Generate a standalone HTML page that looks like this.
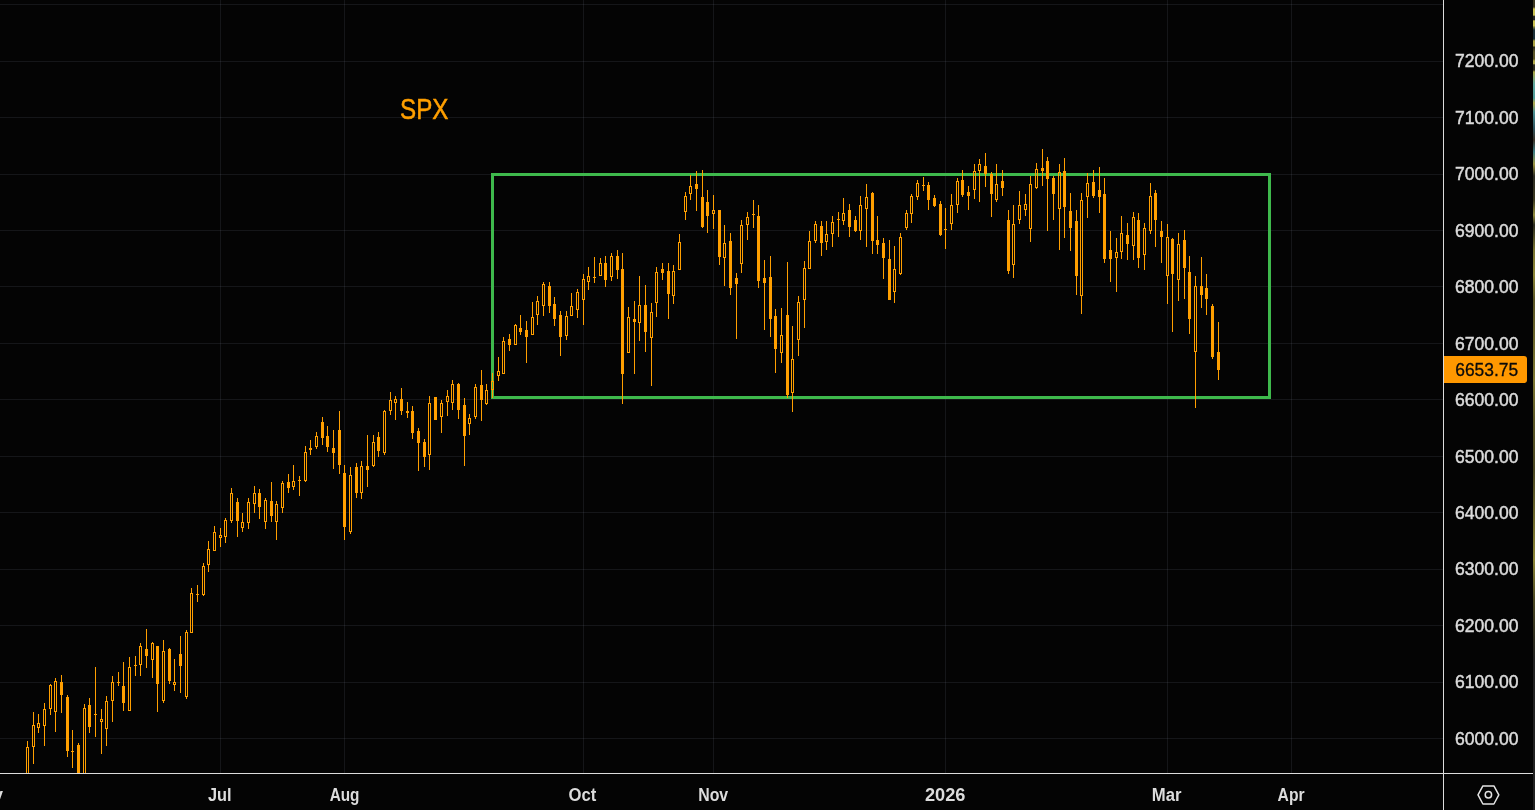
<!DOCTYPE html>
<html><head><meta charset="utf-8"><title>SPX</title>
<style>html,body{margin:0;padding:0;background:#040404;overflow:hidden;font-size:0;line-height:0;color:#040404}svg{display:block;position:fixed;left:0;top:0;z-index:9;will-change:transform}text{font-family:"Liberation Sans",sans-serif}</style>
</head><body>
<svg width="1535" height="810" viewBox="0 0 1535 810">
<rect width="1535" height="810" fill="#040404"/>
<g fill="#8a93a8" fill-opacity="0.13" shape-rendering="crispEdges">
<rect x="0" y="4" width="1443" height="1"/>
<rect x="0" y="61" width="1443" height="1"/>
<rect x="0" y="117" width="1443" height="1"/>
<rect x="0" y="174" width="1443" height="1"/>
<rect x="0" y="230" width="1443" height="1"/>
<rect x="0" y="286" width="1443" height="1"/>
<rect x="0" y="343" width="1443" height="1"/>
<rect x="0" y="399" width="1443" height="1"/>
<rect x="0" y="456" width="1443" height="1"/>
<rect x="0" y="512" width="1443" height="1"/>
<rect x="0" y="569" width="1443" height="1"/>
<rect x="0" y="625" width="1443" height="1"/>
<rect x="0" y="682" width="1443" height="1"/>
<rect x="0" y="738" width="1443" height="1"/>
<rect x="220" y="0" width="1" height="773"/>
<rect x="344" y="0" width="1" height="773"/>
<rect x="583" y="0" width="1" height="773"/>
<rect x="713" y="0" width="1" height="773"/>
<rect x="945" y="0" width="1" height="773"/>
<rect x="1167" y="0" width="1" height="773"/>
<rect x="1291" y="0" width="1" height="773"/>
</g>
<rect x="492.5" y="174.5" width="777" height="223" fill="none" stroke="#3eb94c" stroke-width="3" shape-rendering="crispEdges"/>
<g fill="#ff9f00" shape-rendering="crispEdges">
<rect x="27" y="741" width="1" height="7"/>
<rect x="26" y="747" width="1" height="26"/>
<rect x="28" y="747" width="1" height="26"/>
<rect x="33" y="712" width="1" height="14"/>
<rect x="33" y="746" width="1" height="18"/>
<rect x="32" y="725" width="1" height="22"/>
<rect x="34" y="725" width="1" height="22"/>
<rect x="38" y="714" width="1" height="10"/>
<rect x="38" y="727" width="1" height="6"/>
<rect x="37" y="723" width="1" height="5"/>
<rect x="39" y="723" width="1" height="5"/>
<rect x="44" y="703" width="1" height="7"/>
<rect x="44" y="725" width="1" height="21"/>
<rect x="43" y="709" width="1" height="17"/>
<rect x="45" y="709" width="1" height="17"/>
<rect x="50" y="684" width="1" height="2"/>
<rect x="50" y="708" width="1" height="7"/>
<rect x="49" y="685" width="1" height="24"/>
<rect x="51" y="685" width="1" height="24"/>
<rect x="55" y="678" width="1" height="4"/>
<rect x="55" y="711" width="1" height="21"/>
<rect x="54" y="681" width="1" height="31"/>
<rect x="56" y="681" width="1" height="31"/>
<rect x="61" y="675" width="1" height="38"/>
<rect x="60" y="682" width="3" height="13"/>
<rect x="67" y="695" width="1" height="62"/>
<rect x="66" y="697" width="3" height="54"/>
<rect x="72" y="730" width="1" height="38"/>
<rect x="71" y="751" width="3" height="1"/>
<rect x="78" y="743" width="1" height="30"/>
<rect x="77" y="745" width="3" height="28"/>
<rect x="84" y="704" width="1" height="5"/>
<rect x="83" y="708" width="1" height="65"/>
<rect x="85" y="708" width="1" height="65"/>
<rect x="89" y="698" width="1" height="35"/>
<rect x="88" y="705" width="3" height="22"/>
<rect x="95" y="667" width="1" height="70"/>
<rect x="94" y="714" width="3" height="1"/>
<rect x="101" y="709" width="1" height="11"/>
<rect x="101" y="721" width="1" height="33"/>
<rect x="100" y="719" width="1" height="3"/>
<rect x="102" y="719" width="1" height="3"/>
<rect x="106" y="696" width="1" height="6"/>
<rect x="106" y="728" width="1" height="18"/>
<rect x="105" y="701" width="1" height="28"/>
<rect x="107" y="701" width="1" height="28"/>
<rect x="112" y="676" width="1" height="7"/>
<rect x="112" y="700" width="1" height="22"/>
<rect x="111" y="682" width="1" height="19"/>
<rect x="113" y="682" width="1" height="19"/>
<rect x="118" y="672" width="1" height="14"/>
<rect x="117" y="682" width="3" height="1"/>
<rect x="123" y="662" width="1" height="49"/>
<rect x="122" y="686" width="3" height="17"/>
<rect x="129" y="657" width="1" height="11"/>
<rect x="129" y="710" width="1" height="1"/>
<rect x="128" y="667" width="1" height="44"/>
<rect x="130" y="667" width="1" height="44"/>
<rect x="135" y="656" width="1" height="20"/>
<rect x="134" y="665" width="3" height="1"/>
<rect x="140" y="643" width="1" height="4"/>
<rect x="140" y="664" width="1" height="12"/>
<rect x="139" y="646" width="1" height="19"/>
<rect x="141" y="646" width="1" height="19"/>
<rect x="146" y="629" width="1" height="39"/>
<rect x="145" y="649" width="3" height="7"/>
<rect x="152" y="642" width="1" height="2"/>
<rect x="152" y="659" width="1" height="19"/>
<rect x="151" y="643" width="1" height="17"/>
<rect x="153" y="643" width="1" height="17"/>
<rect x="157" y="646" width="1" height="66"/>
<rect x="156" y="646" width="3" height="38"/>
<rect x="163" y="640" width="1" height="12"/>
<rect x="163" y="700" width="1" height="3"/>
<rect x="162" y="651" width="1" height="50"/>
<rect x="164" y="651" width="1" height="50"/>
<rect x="169" y="648" width="1" height="36"/>
<rect x="168" y="649" width="3" height="32"/>
<rect x="174" y="659" width="1" height="24"/>
<rect x="174" y="684" width="1" height="7"/>
<rect x="173" y="682" width="1" height="3"/>
<rect x="175" y="682" width="1" height="3"/>
<rect x="180" y="636" width="1" height="57"/>
<rect x="179" y="654" width="3" height="12"/>
<rect x="186" y="630" width="1" height="3"/>
<rect x="186" y="696" width="1" height="3"/>
<rect x="185" y="632" width="1" height="65"/>
<rect x="187" y="632" width="1" height="65"/>
<rect x="191" y="588" width="1" height="6"/>
<rect x="191" y="632" width="1" height="1"/>
<rect x="190" y="593" width="1" height="40"/>
<rect x="192" y="593" width="1" height="40"/>
<rect x="197" y="585" width="1" height="17"/>
<rect x="196" y="594" width="3" height="1"/>
<rect x="203" y="563" width="1" height="4"/>
<rect x="203" y="594" width="1" height="2"/>
<rect x="202" y="566" width="1" height="29"/>
<rect x="204" y="566" width="1" height="29"/>
<rect x="208" y="541" width="1" height="9"/>
<rect x="208" y="564" width="1" height="8"/>
<rect x="207" y="549" width="1" height="16"/>
<rect x="209" y="549" width="1" height="16"/>
<rect x="214" y="526" width="1" height="7"/>
<rect x="214" y="550" width="1" height="1"/>
<rect x="213" y="532" width="1" height="19"/>
<rect x="215" y="532" width="1" height="19"/>
<rect x="220" y="528" width="1" height="8"/>
<rect x="220" y="537" width="1" height="10"/>
<rect x="219" y="535" width="1" height="3"/>
<rect x="221" y="535" width="1" height="3"/>
<rect x="225" y="518" width="1" height="3"/>
<rect x="225" y="536" width="1" height="7"/>
<rect x="224" y="520" width="1" height="17"/>
<rect x="226" y="520" width="1" height="17"/>
<rect x="231" y="488" width="1" height="6"/>
<rect x="231" y="520" width="1" height="3"/>
<rect x="230" y="493" width="1" height="28"/>
<rect x="232" y="493" width="1" height="28"/>
<rect x="237" y="498" width="1" height="39"/>
<rect x="236" y="502" width="3" height="19"/>
<rect x="242" y="513" width="1" height="10"/>
<rect x="242" y="527" width="1" height="5"/>
<rect x="241" y="522" width="1" height="6"/>
<rect x="243" y="522" width="1" height="6"/>
<rect x="248" y="498" width="1" height="5"/>
<rect x="248" y="522" width="1" height="7"/>
<rect x="247" y="502" width="1" height="21"/>
<rect x="249" y="502" width="1" height="21"/>
<rect x="254" y="486" width="1" height="8"/>
<rect x="254" y="503" width="1" height="10"/>
<rect x="253" y="493" width="1" height="11"/>
<rect x="255" y="493" width="1" height="11"/>
<rect x="259" y="489" width="1" height="30"/>
<rect x="258" y="493" width="3" height="14"/>
<rect x="265" y="498" width="1" height="3"/>
<rect x="265" y="521" width="1" height="8"/>
<rect x="264" y="500" width="1" height="22"/>
<rect x="266" y="500" width="1" height="22"/>
<rect x="271" y="482" width="1" height="40"/>
<rect x="270" y="501" width="3" height="15"/>
<rect x="276" y="501" width="1" height="4"/>
<rect x="276" y="521" width="1" height="19"/>
<rect x="275" y="504" width="1" height="18"/>
<rect x="277" y="504" width="1" height="18"/>
<rect x="282" y="481" width="1" height="3"/>
<rect x="282" y="507" width="1" height="6"/>
<rect x="281" y="483" width="1" height="25"/>
<rect x="283" y="483" width="1" height="25"/>
<rect x="288" y="474" width="1" height="19"/>
<rect x="287" y="482" width="3" height="6"/>
<rect x="293" y="465" width="1" height="17"/>
<rect x="293" y="486" width="1" height="4"/>
<rect x="292" y="481" width="1" height="6"/>
<rect x="294" y="481" width="1" height="6"/>
<rect x="299" y="476" width="1" height="20"/>
<rect x="298" y="480" width="3" height="1"/>
<rect x="305" y="446" width="1" height="7"/>
<rect x="305" y="480" width="1" height="2"/>
<rect x="304" y="452" width="1" height="29"/>
<rect x="306" y="452" width="1" height="29"/>
<rect x="310" y="440" width="1" height="15"/>
<rect x="309" y="448" width="3" height="2"/>
<rect x="316" y="432" width="1" height="5"/>
<rect x="316" y="446" width="1" height="3"/>
<rect x="315" y="436" width="1" height="11"/>
<rect x="317" y="436" width="1" height="11"/>
<rect x="322" y="417" width="1" height="28"/>
<rect x="321" y="422" width="3" height="16"/>
<rect x="327" y="426" width="1" height="26"/>
<rect x="326" y="436" width="3" height="11"/>
<rect x="333" y="430" width="1" height="39"/>
<rect x="332" y="448" width="3" height="5"/>
<rect x="339" y="411" width="1" height="63"/>
<rect x="338" y="430" width="3" height="35"/>
<rect x="344" y="465" width="1" height="75"/>
<rect x="343" y="473" width="3" height="54"/>
<rect x="350" y="467" width="1" height="9"/>
<rect x="350" y="531" width="1" height="3"/>
<rect x="349" y="475" width="1" height="57"/>
<rect x="351" y="475" width="1" height="57"/>
<rect x="356" y="463" width="1" height="35"/>
<rect x="355" y="467" width="3" height="26"/>
<rect x="361" y="461" width="1" height="6"/>
<rect x="361" y="492" width="1" height="7"/>
<rect x="360" y="466" width="1" height="27"/>
<rect x="362" y="466" width="1" height="27"/>
<rect x="367" y="435" width="1" height="52"/>
<rect x="366" y="466" width="3" height="4"/>
<rect x="373" y="435" width="1" height="8"/>
<rect x="373" y="465" width="1" height="2"/>
<rect x="372" y="442" width="1" height="24"/>
<rect x="374" y="442" width="1" height="24"/>
<rect x="378" y="432" width="1" height="25"/>
<rect x="377" y="437" width="3" height="14"/>
<rect x="384" y="410" width="1" height="2"/>
<rect x="384" y="452" width="1" height="3"/>
<rect x="383" y="411" width="1" height="42"/>
<rect x="385" y="411" width="1" height="42"/>
<rect x="390" y="392" width="1" height="9"/>
<rect x="390" y="410" width="1" height="5"/>
<rect x="389" y="400" width="1" height="11"/>
<rect x="391" y="400" width="1" height="11"/>
<rect x="395" y="396" width="1" height="4"/>
<rect x="395" y="402" width="1" height="18"/>
<rect x="394" y="399" width="1" height="4"/>
<rect x="396" y="399" width="1" height="4"/>
<rect x="401" y="388" width="1" height="27"/>
<rect x="400" y="399" width="3" height="12"/>
<rect x="407" y="402" width="1" height="16"/>
<rect x="406" y="411" width="3" height="2"/>
<rect x="412" y="406" width="1" height="33"/>
<rect x="411" y="411" width="3" height="22"/>
<rect x="418" y="428" width="1" height="43"/>
<rect x="417" y="431" width="3" height="12"/>
<rect x="424" y="439" width="1" height="28"/>
<rect x="423" y="442" width="3" height="15"/>
<rect x="429" y="396" width="1" height="8"/>
<rect x="429" y="454" width="1" height="16"/>
<rect x="428" y="403" width="1" height="52"/>
<rect x="430" y="403" width="1" height="52"/>
<rect x="435" y="397" width="1" height="23"/>
<rect x="434" y="397" width="3" height="23"/>
<rect x="441" y="400" width="1" height="4"/>
<rect x="441" y="416" width="1" height="17"/>
<rect x="440" y="403" width="1" height="14"/>
<rect x="442" y="403" width="1" height="14"/>
<rect x="447" y="390" width="1" height="7"/>
<rect x="447" y="401" width="1" height="15"/>
<rect x="446" y="396" width="1" height="6"/>
<rect x="448" y="396" width="1" height="6"/>
<rect x="452" y="380" width="1" height="5"/>
<rect x="452" y="402" width="1" height="8"/>
<rect x="451" y="384" width="1" height="19"/>
<rect x="453" y="384" width="1" height="19"/>
<rect x="458" y="383" width="1" height="36"/>
<rect x="457" y="384" width="3" height="26"/>
<rect x="464" y="398" width="1" height="68"/>
<rect x="463" y="405" width="3" height="31"/>
<rect x="469" y="414" width="1" height="5"/>
<rect x="469" y="423" width="1" height="12"/>
<rect x="468" y="418" width="1" height="6"/>
<rect x="470" y="418" width="1" height="6"/>
<rect x="475" y="384" width="1" height="4"/>
<rect x="475" y="416" width="1" height="3"/>
<rect x="474" y="387" width="1" height="30"/>
<rect x="476" y="387" width="1" height="30"/>
<rect x="481" y="370" width="1" height="51"/>
<rect x="480" y="385" width="3" height="15"/>
<rect x="486" y="384" width="1" height="7"/>
<rect x="486" y="403" width="1" height="2"/>
<rect x="485" y="390" width="1" height="14"/>
<rect x="487" y="390" width="1" height="14"/>
<rect x="492" y="373" width="1" height="9"/>
<rect x="492" y="389" width="1" height="9"/>
<rect x="491" y="381" width="1" height="9"/>
<rect x="493" y="381" width="1" height="9"/>
<rect x="498" y="357" width="1" height="15"/>
<rect x="498" y="375" width="1" height="6"/>
<rect x="497" y="371" width="1" height="5"/>
<rect x="499" y="371" width="1" height="5"/>
<rect x="503" y="337" width="1" height="5"/>
<rect x="503" y="373" width="1" height="1"/>
<rect x="502" y="341" width="1" height="33"/>
<rect x="504" y="341" width="1" height="33"/>
<rect x="509" y="334" width="1" height="17"/>
<rect x="508" y="339" width="3" height="6"/>
<rect x="515" y="324" width="1" height="2"/>
<rect x="515" y="344" width="1" height="1"/>
<rect x="514" y="325" width="1" height="20"/>
<rect x="516" y="325" width="1" height="20"/>
<rect x="520" y="315" width="1" height="20"/>
<rect x="519" y="328" width="3" height="4"/>
<rect x="526" y="321" width="1" height="42"/>
<rect x="525" y="330" width="3" height="7"/>
<rect x="532" y="302" width="1" height="16"/>
<rect x="532" y="334" width="1" height="1"/>
<rect x="531" y="317" width="1" height="18"/>
<rect x="533" y="317" width="1" height="18"/>
<rect x="537" y="296" width="1" height="6"/>
<rect x="537" y="314" width="1" height="11"/>
<rect x="536" y="301" width="1" height="14"/>
<rect x="538" y="301" width="1" height="14"/>
<rect x="543" y="282" width="1" height="3"/>
<rect x="543" y="305" width="1" height="11"/>
<rect x="542" y="284" width="1" height="22"/>
<rect x="544" y="284" width="1" height="22"/>
<rect x="549" y="282" width="1" height="31"/>
<rect x="548" y="286" width="3" height="20"/>
<rect x="554" y="297" width="1" height="29"/>
<rect x="553" y="304" width="3" height="15"/>
<rect x="560" y="311" width="1" height="45"/>
<rect x="559" y="315" width="3" height="22"/>
<rect x="566" y="311" width="1" height="6"/>
<rect x="566" y="335" width="1" height="5"/>
<rect x="565" y="316" width="1" height="20"/>
<rect x="567" y="316" width="1" height="20"/>
<rect x="571" y="293" width="1" height="14"/>
<rect x="571" y="315" width="1" height="1"/>
<rect x="570" y="306" width="1" height="10"/>
<rect x="572" y="306" width="1" height="10"/>
<rect x="577" y="289" width="1" height="4"/>
<rect x="577" y="309" width="1" height="9"/>
<rect x="576" y="292" width="1" height="18"/>
<rect x="578" y="292" width="1" height="18"/>
<rect x="583" y="274" width="1" height="6"/>
<rect x="583" y="299" width="1" height="26"/>
<rect x="582" y="279" width="1" height="21"/>
<rect x="584" y="279" width="1" height="21"/>
<rect x="588" y="267" width="1" height="10"/>
<rect x="588" y="281" width="1" height="9"/>
<rect x="587" y="276" width="1" height="6"/>
<rect x="589" y="276" width="1" height="6"/>
<rect x="594" y="257" width="1" height="26"/>
<rect x="593" y="277" width="3" height="1"/>
<rect x="600" y="258" width="1" height="6"/>
<rect x="600" y="275" width="1" height="1"/>
<rect x="599" y="263" width="1" height="13"/>
<rect x="601" y="263" width="1" height="13"/>
<rect x="605" y="256" width="1" height="31"/>
<rect x="604" y="263" width="3" height="17"/>
<rect x="611" y="253" width="1" height="4"/>
<rect x="611" y="276" width="1" height="5"/>
<rect x="610" y="256" width="1" height="21"/>
<rect x="612" y="256" width="1" height="21"/>
<rect x="617" y="250" width="1" height="29"/>
<rect x="616" y="256" width="3" height="14"/>
<rect x="622" y="253" width="1" height="151"/>
<rect x="621" y="269" width="3" height="105"/>
<rect x="628" y="307" width="1" height="11"/>
<rect x="628" y="352" width="1" height="1"/>
<rect x="627" y="317" width="1" height="36"/>
<rect x="629" y="317" width="1" height="36"/>
<rect x="634" y="301" width="1" height="73"/>
<rect x="633" y="319" width="3" height="3"/>
<rect x="639" y="276" width="1" height="30"/>
<rect x="639" y="322" width="1" height="19"/>
<rect x="638" y="305" width="1" height="18"/>
<rect x="640" y="305" width="1" height="18"/>
<rect x="645" y="285" width="1" height="67"/>
<rect x="644" y="305" width="3" height="27"/>
<rect x="651" y="303" width="1" height="10"/>
<rect x="651" y="337" width="1" height="49"/>
<rect x="650" y="312" width="1" height="26"/>
<rect x="652" y="312" width="1" height="26"/>
<rect x="656" y="267" width="1" height="6"/>
<rect x="656" y="302" width="1" height="15"/>
<rect x="655" y="272" width="1" height="31"/>
<rect x="657" y="272" width="1" height="31"/>
<rect x="662" y="263" width="1" height="17"/>
<rect x="661" y="269" width="3" height="4"/>
<rect x="668" y="263" width="1" height="56"/>
<rect x="667" y="271" width="3" height="23"/>
<rect x="673" y="265" width="1" height="7"/>
<rect x="673" y="295" width="1" height="9"/>
<rect x="672" y="271" width="1" height="25"/>
<rect x="674" y="271" width="1" height="25"/>
<rect x="679" y="234" width="1" height="9"/>
<rect x="679" y="269" width="1" height="1"/>
<rect x="678" y="242" width="1" height="28"/>
<rect x="680" y="242" width="1" height="28"/>
<rect x="685" y="192" width="1" height="5"/>
<rect x="685" y="211" width="1" height="9"/>
<rect x="684" y="196" width="1" height="16"/>
<rect x="686" y="196" width="1" height="16"/>
<rect x="690" y="175" width="1" height="12"/>
<rect x="690" y="193" width="1" height="7"/>
<rect x="689" y="186" width="1" height="8"/>
<rect x="691" y="186" width="1" height="8"/>
<rect x="696" y="171" width="1" height="40"/>
<rect x="695" y="184" width="3" height="5"/>
<rect x="702" y="170" width="1" height="58"/>
<rect x="701" y="197" width="3" height="30"/>
<rect x="707" y="190" width="1" height="43"/>
<rect x="706" y="202" width="3" height="14"/>
<rect x="713" y="195" width="1" height="16"/>
<rect x="713" y="213" width="1" height="16"/>
<rect x="712" y="210" width="1" height="4"/>
<rect x="714" y="210" width="1" height="4"/>
<rect x="719" y="210" width="1" height="55"/>
<rect x="718" y="210" width="3" height="47"/>
<rect x="724" y="225" width="1" height="19"/>
<rect x="724" y="257" width="1" height="29"/>
<rect x="723" y="243" width="1" height="15"/>
<rect x="725" y="243" width="1" height="15"/>
<rect x="730" y="233" width="1" height="62"/>
<rect x="729" y="241" width="3" height="47"/>
<rect x="736" y="273" width="1" height="66"/>
<rect x="735" y="278" width="3" height="6"/>
<rect x="741" y="220" width="1" height="6"/>
<rect x="741" y="263" width="1" height="10"/>
<rect x="740" y="225" width="1" height="39"/>
<rect x="742" y="225" width="1" height="39"/>
<rect x="747" y="212" width="1" height="6"/>
<rect x="747" y="224" width="1" height="16"/>
<rect x="746" y="217" width="1" height="8"/>
<rect x="748" y="217" width="1" height="8"/>
<rect x="753" y="200" width="1" height="28"/>
<rect x="752" y="214" width="3" height="1"/>
<rect x="758" y="205" width="1" height="83"/>
<rect x="757" y="216" width="3" height="65"/>
<rect x="764" y="260" width="1" height="70"/>
<rect x="763" y="278" width="3" height="5"/>
<rect x="770" y="256" width="1" height="81"/>
<rect x="769" y="277" width="3" height="42"/>
<rect x="775" y="309" width="1" height="64"/>
<rect x="774" y="316" width="3" height="33"/>
<rect x="781" y="308" width="1" height="28"/>
<rect x="781" y="352" width="1" height="11"/>
<rect x="780" y="335" width="1" height="18"/>
<rect x="782" y="335" width="1" height="18"/>
<rect x="787" y="262" width="1" height="136"/>
<rect x="786" y="315" width="3" height="80"/>
<rect x="792" y="326" width="1" height="34"/>
<rect x="792" y="392" width="1" height="20"/>
<rect x="791" y="359" width="1" height="34"/>
<rect x="793" y="359" width="1" height="34"/>
<rect x="798" y="296" width="1" height="7"/>
<rect x="798" y="339" width="1" height="17"/>
<rect x="797" y="302" width="1" height="38"/>
<rect x="799" y="302" width="1" height="38"/>
<rect x="804" y="261" width="1" height="8"/>
<rect x="804" y="299" width="1" height="29"/>
<rect x="803" y="268" width="1" height="32"/>
<rect x="805" y="268" width="1" height="32"/>
<rect x="809" y="231" width="1" height="11"/>
<rect x="809" y="268" width="1" height="1"/>
<rect x="808" y="241" width="1" height="28"/>
<rect x="810" y="241" width="1" height="28"/>
<rect x="815" y="221" width="1" height="4"/>
<rect x="815" y="240" width="1" height="3"/>
<rect x="814" y="224" width="1" height="17"/>
<rect x="816" y="224" width="1" height="17"/>
<rect x="821" y="221" width="1" height="35"/>
<rect x="820" y="226" width="3" height="17"/>
<rect x="826" y="221" width="1" height="14"/>
<rect x="826" y="241" width="1" height="9"/>
<rect x="825" y="234" width="1" height="8"/>
<rect x="827" y="234" width="1" height="8"/>
<rect x="832" y="216" width="1" height="7"/>
<rect x="832" y="233" width="1" height="14"/>
<rect x="831" y="222" width="1" height="12"/>
<rect x="833" y="222" width="1" height="12"/>
<rect x="838" y="212" width="1" height="25"/>
<rect x="837" y="219" width="3" height="1"/>
<rect x="843" y="198" width="1" height="16"/>
<rect x="843" y="220" width="1" height="5"/>
<rect x="842" y="213" width="1" height="8"/>
<rect x="844" y="213" width="1" height="8"/>
<rect x="849" y="204" width="1" height="33"/>
<rect x="848" y="210" width="3" height="17"/>
<rect x="855" y="216" width="1" height="16"/>
<rect x="854" y="220" width="3" height="11"/>
<rect x="860" y="196" width="1" height="10"/>
<rect x="860" y="230" width="1" height="10"/>
<rect x="859" y="205" width="1" height="26"/>
<rect x="861" y="205" width="1" height="26"/>
<rect x="866" y="184" width="1" height="14"/>
<rect x="866" y="208" width="1" height="39"/>
<rect x="865" y="197" width="1" height="12"/>
<rect x="867" y="197" width="1" height="12"/>
<rect x="872" y="192" width="1" height="62"/>
<rect x="871" y="193" width="3" height="48"/>
<rect x="877" y="216" width="1" height="38"/>
<rect x="876" y="240" width="3" height="5"/>
<rect x="883" y="238" width="1" height="41"/>
<rect x="882" y="243" width="3" height="15"/>
<rect x="889" y="240" width="1" height="60"/>
<rect x="888" y="259" width="3" height="41"/>
<rect x="894" y="246" width="1" height="24"/>
<rect x="894" y="291" width="1" height="12"/>
<rect x="893" y="269" width="1" height="23"/>
<rect x="895" y="269" width="1" height="23"/>
<rect x="900" y="233" width="1" height="5"/>
<rect x="900" y="273" width="1" height="2"/>
<rect x="899" y="237" width="1" height="37"/>
<rect x="901" y="237" width="1" height="37"/>
<rect x="906" y="210" width="1" height="4"/>
<rect x="906" y="227" width="1" height="3"/>
<rect x="905" y="213" width="1" height="15"/>
<rect x="907" y="213" width="1" height="15"/>
<rect x="911" y="194" width="1" height="3"/>
<rect x="911" y="213" width="1" height="10"/>
<rect x="910" y="196" width="1" height="18"/>
<rect x="912" y="196" width="1" height="18"/>
<rect x="917" y="180" width="1" height="4"/>
<rect x="917" y="196" width="1" height="4"/>
<rect x="916" y="183" width="1" height="14"/>
<rect x="918" y="183" width="1" height="14"/>
<rect x="923" y="177" width="1" height="14"/>
<rect x="922" y="185" width="3" height="1"/>
<rect x="928" y="182" width="1" height="28"/>
<rect x="927" y="185" width="3" height="15"/>
<rect x="934" y="195" width="1" height="12"/>
<rect x="933" y="198" width="3" height="8"/>
<rect x="940" y="201" width="1" height="35"/>
<rect x="939" y="204" width="3" height="31"/>
<rect x="945" y="208" width="1" height="41"/>
<rect x="944" y="229" width="3" height="1"/>
<rect x="951" y="194" width="1" height="12"/>
<rect x="951" y="223" width="1" height="7"/>
<rect x="950" y="205" width="1" height="19"/>
<rect x="952" y="205" width="1" height="19"/>
<rect x="957" y="178" width="1" height="4"/>
<rect x="957" y="204" width="1" height="9"/>
<rect x="956" y="181" width="1" height="24"/>
<rect x="958" y="181" width="1" height="24"/>
<rect x="962" y="170" width="1" height="27"/>
<rect x="961" y="180" width="3" height="15"/>
<rect x="968" y="186" width="1" height="24"/>
<rect x="967" y="192" width="3" height="4"/>
<rect x="974" y="164" width="1" height="8"/>
<rect x="974" y="189" width="1" height="10"/>
<rect x="973" y="171" width="1" height="19"/>
<rect x="975" y="171" width="1" height="19"/>
<rect x="979" y="159" width="1" height="6"/>
<rect x="979" y="170" width="1" height="32"/>
<rect x="978" y="164" width="1" height="7"/>
<rect x="980" y="164" width="1" height="7"/>
<rect x="985" y="153" width="1" height="34"/>
<rect x="984" y="166" width="3" height="8"/>
<rect x="991" y="172" width="1" height="45"/>
<rect x="990" y="174" width="3" height="20"/>
<rect x="996" y="164" width="1" height="21"/>
<rect x="996" y="199" width="1" height="3"/>
<rect x="995" y="184" width="1" height="16"/>
<rect x="997" y="184" width="1" height="16"/>
<rect x="1002" y="170" width="1" height="26"/>
<rect x="1001" y="181" width="3" height="7"/>
<rect x="1008" y="210" width="1" height="64"/>
<rect x="1007" y="220" width="3" height="51"/>
<rect x="1013" y="205" width="1" height="20"/>
<rect x="1013" y="264" width="1" height="14"/>
<rect x="1012" y="224" width="1" height="41"/>
<rect x="1014" y="224" width="1" height="41"/>
<rect x="1019" y="191" width="1" height="15"/>
<rect x="1019" y="219" width="1" height="5"/>
<rect x="1018" y="205" width="1" height="15"/>
<rect x="1020" y="205" width="1" height="15"/>
<rect x="1025" y="194" width="1" height="11"/>
<rect x="1025" y="209" width="1" height="7"/>
<rect x="1024" y="204" width="1" height="6"/>
<rect x="1026" y="204" width="1" height="6"/>
<rect x="1030" y="176" width="1" height="9"/>
<rect x="1030" y="228" width="1" height="14"/>
<rect x="1029" y="184" width="1" height="45"/>
<rect x="1031" y="184" width="1" height="45"/>
<rect x="1036" y="163" width="1" height="7"/>
<rect x="1036" y="187" width="1" height="2"/>
<rect x="1035" y="169" width="1" height="19"/>
<rect x="1037" y="169" width="1" height="19"/>
<rect x="1042" y="149" width="1" height="37"/>
<rect x="1041" y="168" width="3" height="3"/>
<rect x="1047" y="157" width="1" height="74"/>
<rect x="1046" y="161" width="3" height="18"/>
<rect x="1053" y="176" width="1" height="44"/>
<rect x="1052" y="178" width="3" height="16"/>
<rect x="1059" y="164" width="1" height="9"/>
<rect x="1059" y="208" width="1" height="42"/>
<rect x="1058" y="172" width="1" height="37"/>
<rect x="1060" y="172" width="1" height="37"/>
<rect x="1064" y="158" width="1" height="80"/>
<rect x="1063" y="171" width="3" height="36"/>
<rect x="1070" y="193" width="1" height="58"/>
<rect x="1069" y="211" width="3" height="17"/>
<rect x="1076" y="210" width="1" height="85"/>
<rect x="1075" y="221" width="3" height="55"/>
<rect x="1081" y="193" width="1" height="8"/>
<rect x="1081" y="295" width="1" height="19"/>
<rect x="1080" y="200" width="1" height="96"/>
<rect x="1082" y="200" width="1" height="96"/>
<rect x="1087" y="173" width="1" height="11"/>
<rect x="1087" y="196" width="1" height="22"/>
<rect x="1086" y="183" width="1" height="14"/>
<rect x="1088" y="183" width="1" height="14"/>
<rect x="1093" y="170" width="1" height="28"/>
<rect x="1092" y="182" width="3" height="14"/>
<rect x="1099" y="167" width="1" height="46"/>
<rect x="1098" y="190" width="3" height="7"/>
<rect x="1104" y="178" width="1" height="85"/>
<rect x="1103" y="194" width="3" height="65"/>
<rect x="1110" y="231" width="1" height="51"/>
<rect x="1109" y="250" width="3" height="9"/>
<rect x="1116" y="238" width="1" height="15"/>
<rect x="1116" y="257" width="1" height="35"/>
<rect x="1115" y="252" width="1" height="6"/>
<rect x="1117" y="252" width="1" height="6"/>
<rect x="1121" y="216" width="1" height="18"/>
<rect x="1121" y="251" width="1" height="8"/>
<rect x="1120" y="233" width="1" height="19"/>
<rect x="1122" y="233" width="1" height="19"/>
<rect x="1127" y="223" width="1" height="37"/>
<rect x="1126" y="235" width="3" height="9"/>
<rect x="1133" y="212" width="1" height="6"/>
<rect x="1133" y="245" width="1" height="15"/>
<rect x="1132" y="217" width="1" height="29"/>
<rect x="1134" y="217" width="1" height="29"/>
<rect x="1138" y="213" width="1" height="55"/>
<rect x="1137" y="220" width="3" height="38"/>
<rect x="1144" y="223" width="1" height="6"/>
<rect x="1144" y="254" width="1" height="16"/>
<rect x="1143" y="228" width="1" height="27"/>
<rect x="1145" y="228" width="1" height="27"/>
<rect x="1150" y="183" width="1" height="14"/>
<rect x="1150" y="230" width="1" height="4"/>
<rect x="1149" y="196" width="1" height="35"/>
<rect x="1151" y="196" width="1" height="35"/>
<rect x="1155" y="190" width="1" height="57"/>
<rect x="1154" y="193" width="3" height="27"/>
<rect x="1161" y="221" width="1" height="42"/>
<rect x="1160" y="231" width="3" height="6"/>
<rect x="1167" y="224" width="1" height="14"/>
<rect x="1167" y="275" width="1" height="29"/>
<rect x="1166" y="237" width="1" height="39"/>
<rect x="1168" y="237" width="1" height="39"/>
<rect x="1172" y="238" width="1" height="94"/>
<rect x="1171" y="239" width="3" height="35"/>
<rect x="1178" y="233" width="1" height="12"/>
<rect x="1178" y="279" width="1" height="22"/>
<rect x="1177" y="244" width="1" height="36"/>
<rect x="1179" y="244" width="1" height="36"/>
<rect x="1184" y="230" width="1" height="69"/>
<rect x="1183" y="240" width="3" height="28"/>
<rect x="1189" y="256" width="1" height="78"/>
<rect x="1188" y="272" width="3" height="47"/>
<rect x="1195" y="276" width="1" height="11"/>
<rect x="1195" y="351" width="1" height="57"/>
<rect x="1194" y="286" width="1" height="66"/>
<rect x="1196" y="286" width="1" height="66"/>
<rect x="1201" y="257" width="1" height="51"/>
<rect x="1200" y="286" width="3" height="9"/>
<rect x="1206" y="274" width="1" height="41"/>
<rect x="1205" y="288" width="3" height="11"/>
<rect x="1212" y="304" width="1" height="55"/>
<rect x="1211" y="306" width="3" height="51"/>
<rect x="1218" y="322" width="1" height="58"/>
<rect x="1217" y="352" width="3" height="18"/>
</g>
<g fill="#dcdcdc" shape-rendering="crispEdges">
<rect x="1443" y="0" width="1" height="810"/>
<rect x="0" y="773" width="1533" height="1"/>
</g>
<defs><linearGradient id="sl" x1="0" y1="0" x2="0" y2="1">
<stop offset="0.0000" stop-color="#3a3520"/>
<stop offset="0.0086" stop-color="#3a3520"/>
<stop offset="0.0111" stop-color="#c8c050"/>
<stop offset="0.0185" stop-color="#c8c050"/>
<stop offset="0.0204" stop-color="#252520"/>
<stop offset="0.0241" stop-color="#252520"/>
<stop offset="0.0259" stop-color="#c8c050"/>
<stop offset="0.0315" stop-color="#c8c050"/>
<stop offset="0.0340" stop-color="#6a7040"/>
<stop offset="0.0370" stop-color="#1c3038"/>
<stop offset="0.0481" stop-color="#1c3038"/>
<stop offset="0.0506" stop-color="#a8a040"/>
<stop offset="0.0562" stop-color="#a8a040"/>
<stop offset="0.0586" stop-color="#2a2a1c"/>
<stop offset="0.0642" stop-color="#5a5528"/>
<stop offset="0.0728" stop-color="#5a5528"/>
<stop offset="0.0753" stop-color="#b0a848"/>
<stop offset="0.0784" stop-color="#b0a848"/>
<stop offset="0.0802" stop-color="#2a2a1e"/>
<stop offset="0.0864" stop-color="#2a2a1e"/>
<stop offset="0.0889" stop-color="#a9a644"/>
<stop offset="0.1037" stop-color="#5fa7a0"/>
<stop offset="0.1210" stop-color="#4e9a98"/>
<stop offset="0.1272" stop-color="#b0a84a"/>
<stop offset="0.1383" stop-color="#4a8f93"/>
<stop offset="0.1580" stop-color="#2f5560"/>
<stop offset="0.1728" stop-color="#3a3328"/>
<stop offset="0.1877" stop-color="#3e7f86"/>
<stop offset="0.2025" stop-color="#9a9340"/>
<stop offset="0.2173" stop-color="#2b2b22"/>
<stop offset="0.2469" stop-color="#3a381f"/>
<stop offset="0.2654" stop-color="#8f8a3c"/>
<stop offset="0.2778" stop-color="#2a2a1e"/>
<stop offset="0.3086" stop-color="#77722f"/>
<stop offset="0.3395" stop-color="#8a8436"/>
<stop offset="0.3704" stop-color="#5a5526"/>
<stop offset="0.4198" stop-color="#6a652b"/>
<stop offset="0.4691" stop-color="#7d7732"/>
<stop offset="0.5185" stop-color="#5b5726"/>
<stop offset="0.5802" stop-color="#4a4722"/>
<stop offset="0.6420" stop-color="#6e692c"/>
<stop offset="0.6914" stop-color="#8a8436"/>
<stop offset="0.7407" stop-color="#4a4722"/>
<stop offset="0.7901" stop-color="#2c2b1e"/>
<stop offset="0.8148" stop-color="#222222"/>
<stop offset="1.0000" stop-color="#202020"/>
</linearGradient></defs>
<rect x="1533" y="0" width="2" height="810" fill="url(#sl)"/>
<g fill="#dcdcdc" font-size="18.6px" stroke="#dcdcdc" stroke-width="0.5">
<text x="1455.1" y="67.35" textLength="63.4" lengthAdjust="spacingAndGlyphs">7200.00</text>
<text x="1455.1" y="123.80" textLength="63.4" lengthAdjust="spacingAndGlyphs">7100.00</text>
<text x="1455.1" y="180.25" textLength="63.4" lengthAdjust="spacingAndGlyphs">7000.00</text>
<text x="1455.1" y="236.70" textLength="63.4" lengthAdjust="spacingAndGlyphs">6900.00</text>
<text x="1455.1" y="293.15" textLength="63.4" lengthAdjust="spacingAndGlyphs">6800.00</text>
<text x="1455.1" y="349.60" textLength="63.4" lengthAdjust="spacingAndGlyphs">6700.00</text>
<text x="1455.1" y="406.05" textLength="63.4" lengthAdjust="spacingAndGlyphs">6600.00</text>
<text x="1455.1" y="462.50" textLength="63.4" lengthAdjust="spacingAndGlyphs">6500.00</text>
<text x="1455.1" y="518.95" textLength="63.4" lengthAdjust="spacingAndGlyphs">6400.00</text>
<text x="1455.1" y="575.40" textLength="63.4" lengthAdjust="spacingAndGlyphs">6300.00</text>
<text x="1455.1" y="631.85" textLength="63.4" lengthAdjust="spacingAndGlyphs">6200.00</text>
<text x="1455.1" y="688.30" textLength="63.4" lengthAdjust="spacingAndGlyphs">6100.00</text>
<text x="1455.1" y="744.75" textLength="63.4" lengthAdjust="spacingAndGlyphs">6000.00</text>
</g>
<path d="M1444 356H1524Q1527 356 1527 359V380Q1527 383 1524 383H1444Z" fill="#ff9800"/>
<text x="1455.2" y="376.1" font-size="18.6px" fill="#0a0a0a" stroke="#0a0a0a" stroke-width="0.3" textLength="63" lengthAdjust="spacingAndGlyphs">6653.75</text>
<text x="219.8" y="800.8" font-size="17.5px" fill="#dcdcdc" text-anchor="middle" textLength="23.6" lengthAdjust="spacingAndGlyphs" font-weight="bold">Jul</text>
<text x="344.6" y="800.8" font-size="17.5px" fill="#dcdcdc" text-anchor="middle" textLength="29.8" lengthAdjust="spacingAndGlyphs" font-weight="bold">Aug</text>
<text x="582.4" y="800.8" font-size="17.5px" fill="#dcdcdc" text-anchor="middle" textLength="27.8" lengthAdjust="spacingAndGlyphs" font-weight="bold">Oct</text>
<text x="713.2" y="800.8" font-size="17.5px" fill="#dcdcdc" text-anchor="middle" textLength="30.0" lengthAdjust="spacingAndGlyphs" font-weight="bold">Nov</text>
<text x="1166.7" y="800.8" font-size="17.5px" fill="#dcdcdc" text-anchor="middle" textLength="29.7" lengthAdjust="spacingAndGlyphs" font-weight="bold">Mar</text>
<text x="1291.1" y="800.8" font-size="17.5px" fill="#dcdcdc" text-anchor="middle" textLength="27.0" lengthAdjust="spacingAndGlyphs" font-weight="bold">Apr</text>
<text x="945.2" y="800.8" font-size="17.5px" fill="#dcdcdc" text-anchor="middle" textLength="40.5" lengthAdjust="spacingAndGlyphs" font-weight="bold">2026</text>
<text x="3.0" y="801" font-size="17.5px" fill="#dcdcdc" text-anchor="end" font-weight="bold">May</text>
<text x="400" y="118.7" font-size="30px" fill="#ff9f00" stroke="#ff9f00" stroke-width="0.55" textLength="48.4" lengthAdjust="spacingAndGlyphs">SPX</text>
<g fill="none" stroke="#e4e4e4" stroke-width="1.5" stroke-linejoin="round">
<path d="M1478 794.9L1482.9 785.9H1493.9L1498.8 794.9L1493.9 804H1482.9Z"/>
<circle cx="1488.4" cy="794.7" r="3.2"/>
</g>
</svg>
</body></html>
